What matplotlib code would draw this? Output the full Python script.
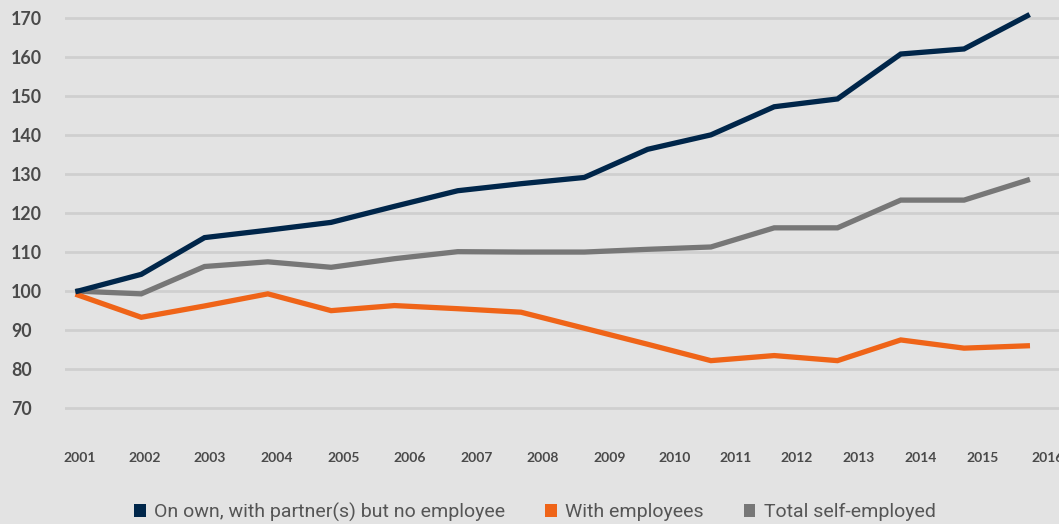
import matplotlib
matplotlib.use("Agg")
import matplotlib.pyplot as plt
from matplotlib.patches import Patch
import numpy as np

years = ["2001", "2002", "2003", "2004", "2005", "2006", "2007", "2008",
         "2009", "2010", "2011", "2012", "2013", "2014", "2015", "2016"]
on_own = [100, 104.3, 113.7, 115.6, 117.6, 121.7, 125.7, 127.5,
          129.1, 136.3, 140.0, 147.2, 149.2, 160.7, 162.0, 170.5]
with_employees = [99.0, 93.3, 96.2, 99.3, 95.0, 96.3, 95.5, 94.6,
                  90.5, 86.4, 82.2, 83.5, 82.2, 87.5, 85.4, 86.0]
total = [100, 99.3, 106.3, 107.5, 106.1, 108.3, 110.1, 110.0,
         110.0, 110.7, 111.3, 116.2, 116.2, 123.3, 123.3, 128.4]
series_names = ["On own, with partner(s) but no employee", "With employees", "Total self-employed"]
yticks = [70, 80, 90, 100, 110, 120, 130, 140, 150, 160, 170]
# label positions on the category axis (labels are slightly offset from points in the original)
label_pos = [0.02, 1.05, 2.08, 3.14, 4.19, 5.24, 6.30, 7.34, 8.40, 9.43, 10.39, 11.35, 12.33, 13.31, 14.30, 15.32]

navy = "#00264a"
orange = "#ef6418"
grey = "#777777"
bg = "#e3e3e3"

fig = plt.figure(figsize=(10.59, 5.24), dpi=100, facecolor=bg)
ax = fig.add_axes([65/1059, 1 - 430/524, 1 - 65/1059, 430/524])
ax.set_facecolor(bg)

x = np.arange(len(years))
ax.plot(x, on_own, color=navy, lw=3.8, solid_joinstyle="miter", zorder=4)
ax.plot(x, total, color=grey, lw=3.8, solid_joinstyle="miter", zorder=3)
ax.plot(x, with_employees, color=orange, lw=3.8, solid_joinstyle="miter", zorder=3)

ax.set_xlim(-0.205, 15.5)
ax.set_ylim(170 - (430 - 17.7) / 3.906, 170 + 17.7 / 3.906)
ax.set_yticks(yticks)
ax.set_yticklabels([str(v) for v in yticks])
ax.yaxis.grid(True, color="#cfcfcf", lw=2)
ax.set_axisbelow(True)
for s in ax.spines.values():
    s.set_visible(False)

ax.set_xticks(label_pos)
ax.set_xticklabels(years)
ax.tick_params(axis="both", length=0)
ax.tick_params(axis="x", pad=15.7, labelsize=10, labelcolor="#4a4a4a")
ax.tick_params(axis="y", pad=39, labelsize=12.8, labelcolor="#4a4a4a")
for lab in ax.get_xticklabels():
    lab.set_fontfamily("Lato")
    lab.set_fontweight("bold")
for lab in ax.get_yticklabels():
    lab.set_fontfamily("Lato")
    lab.set_fontweight("bold")
    lab.set_horizontalalignment("left")

handles = [Patch(facecolor=c, edgecolor="none") for c in (navy, orange, grey)]
leg = fig.legend(handles, series_names, loc="center", bbox_to_anchor=(535/1059, 1 - 512/524),
                 ncol=3, frameon=False, handlelength=0.58, handleheight=0.58, handletextpad=0.45,
                 columnspacing=2.05, prop={"family": "Roboto", "size": 14.0})
for t in leg.get_texts():
    t.set_color("#555555")

fig.savefig("out.png", dpi=100, facecolor=bg)
